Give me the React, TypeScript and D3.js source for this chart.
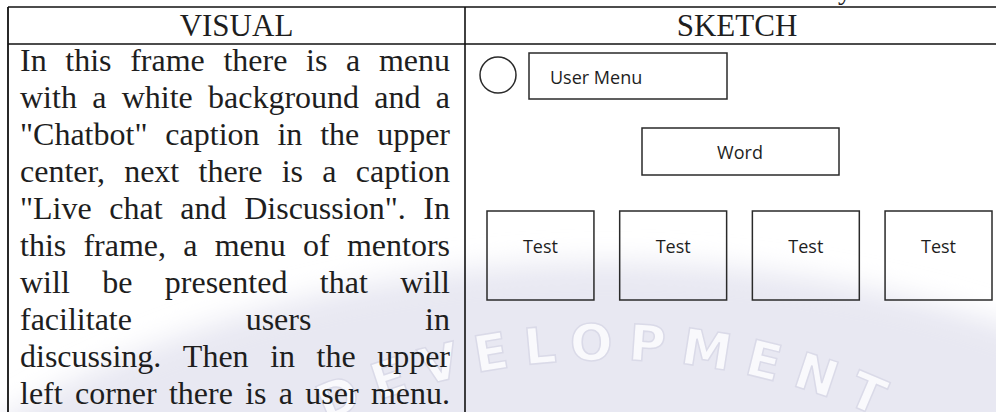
import { useEffect, useRef } from "react"
import * as d3 from "d3"

const headers = ["VISUAL", "SKETCH"]

const visualLines = [
  "In this frame there is a menu",
  "with a white background and a",
  "\"Chatbot\" caption in the upper",
  "center, next there is a caption",
  "\"Live chat and Discussion\". In",
  "this frame, a menu of mentors",
  "will be presented that will",
  "facilitate users in",
  "discussing. Then in the upper",
  "left corner there is a user menu.",
]

const userMenuLabel = "User Menu"
const wordLabel = "Word"
const testLabels = ["Test", "Test", "Test", "Test"]
const watermark = "DEVELOPMENT"

export default function App() {
  const svgRef = useRef<SVGSVGElement>(null)

  useEffect(() => {
    if (!svgRef.current) return
    const svg = d3.select(svgRef.current)
    svg.selectAll("*").remove()

    const W = 996
    const H = 412
    const serif = "'Liberation Serif', 'Times New Roman', serif"
    const sans = "'Open Sans', 'Noto Sans', sans-serif"
    const ink = "#1e1e1e"

    // Watermark behind everything
    const defs = svg.append("defs")
    defs
      .append("filter")
      .attr("id", "soft")
      .attr("x", "-20%")
      .attr("y", "-20%")
      .attr("width", "140%")
      .attr("height", "140%")
      .append("feGaussianBlur")
      .attr("stdDeviation", 14)
    const wm = svg.append("g")
    const cx = 608
    const cy = 1027
    wm.append("ellipse")
      .attr("cx", cx)
      .attr("cy", cy)
      .attr("rx", 1000)
      .attr("ry", 765)
      .attr("fill", "#e8e8f2")
      .attr("filter", "url(#soft)")
    const r = 667
    const arc = d3.path()
    arc.arc(cx, cy, r, Math.PI * 1.1, Math.PI * 1.9)
    defs.append("path").attr("id", "wmArc").attr("d", arc.toString())
    wm.append("text")
      .attr("font-family", "'DejaVu Sans', sans-serif")
      .attr("font-weight", "bold")
      .attr("font-size", 50)
      .attr("letter-spacing", 15)
      .attr("fill", "#f9f9fc")
      .attr("stroke", "#dadae8")
      .attr("stroke-width", 1.5)
      .append("textPath")
      .attr("href", "#wmArc")
      .attr("startOffset", "50%")
      .attr("text-anchor", "middle")
      .text(watermark)

    // Table lines
    const left = 8
    const divider = 465
    const top = 7
    const headBottom = 44
    const lines = svg.append("g").attr("stroke", "#111")
    lines.append("line").attr("x1", left).attr("x2", W).attr("y1", top).attr("y2", top).attr("stroke-width", 1.6)
    lines.append("line").attr("x1", left).attr("x2", W).attr("y1", headBottom).attr("y2", headBottom).attr("stroke-width", 1.6)
    lines.append("line").attr("x1", left).attr("x2", left).attr("y1", top).attr("y2", H).attr("stroke-width", 1.8)
    lines.append("line").attr("x1", divider).attr("x2", divider).attr("y1", top).attr("y2", H).attr("stroke-width", 1.6)

    // cut-off text from above the table
    svg.append("text").attr("x", 838).attr("y", -1).attr("font-family", serif).attr("font-size", 28).attr("fill", ink).text("y")

    // Headers
    const headX = d3.scaleOrdinal<string, number>().domain(headers).range([(left + divider) / 2, 737])
    headers.forEach((h) => {
      svg.append("text")
        .attr("x", headX(h))
        .attr("y", 36)
        .attr("text-anchor", "middle")
        .attr("font-family", serif)
        .attr("font-size", 31)
        .attr("fill", ink)
        .text(h)
    })

    // Justified body text
    const textLeft = 20
    const textRight = 450
    const fs = 32
    const y = d3.scaleLinear().domain([0, visualLines.length - 1]).range([71, 71 + 37 * (visualLines.length - 1)])
    visualLines.forEach((line, i) => {
      const g = svg.append("g").attr("transform", `translate(${textLeft},${y(i)})`)
      const words = line.split(" ")
      const nodes = words.map((w) =>
        g.append("text").attr("font-family", serif).attr("font-size", fs).attr("fill", ink).text(w)
      )
      const widths = nodes.map((n) => (n.node() as SVGTextElement).getComputedTextLength())
      const avail = textRight - textLeft
      const total = d3.sum(widths)
      const gap = words.length < 2 ? 0 : (avail - total) / (words.length - 1)
      let x = 0
      nodes.forEach((n, k) => {
        n.attr("x", x)
        x += widths[k] + gap
      })
    })

    // Sketch column
    const box = svg.append("g").attr("fill", "none").attr("stroke", "#2a2a2a").attr("stroke-width", 1.5)
    box.append("circle").attr("cx", 498).attr("cy", 75).attr("r", 18)
    box.append("rect").attr("x", 529).attr("y", 53).attr("width", 198).attr("height", 46)
    svg.append("text").attr("x", 550).attr("y", 84).attr("font-family", sans).attr("font-size", 18).attr("fill", ink).text(userMenuLabel)

    box.append("rect").attr("x", 642).attr("y", 128).attr("width", 197).attr("height", 47)
    svg.append("text").attr("x", 740).attr("y", 159).attr("text-anchor", "middle").attr("font-family", sans).attr("font-size", 18).attr("fill", ink).text(wordLabel)

    const bx = d3.scaleBand<number>().domain(d3.range(testLabels.length)).range([487, 992]).paddingInner(0.194)
    testLabels.forEach((t, i) => {
      box.append("rect").attr("x", bx(i)!).attr("y", 211).attr("width", bx.bandwidth()).attr("height", 89)
      svg.append("text")
        .attr("x", bx(i)! + bx.bandwidth() / 2)
        .attr("y", 253)
        .attr("text-anchor", "middle")
        .attr("font-family", sans)
        .attr("font-size", 18)
        .attr("fill", ink)
        .text(t)
    })
  }, [])

  return (
    <div style={{ position: "fixed", left: 0, top: 0, width: 996, height: 412, background: "#fff" }}>
      <svg ref={svgRef} width={996} height={412} style={{ display: "block" }} />
    </div>
  )
}
